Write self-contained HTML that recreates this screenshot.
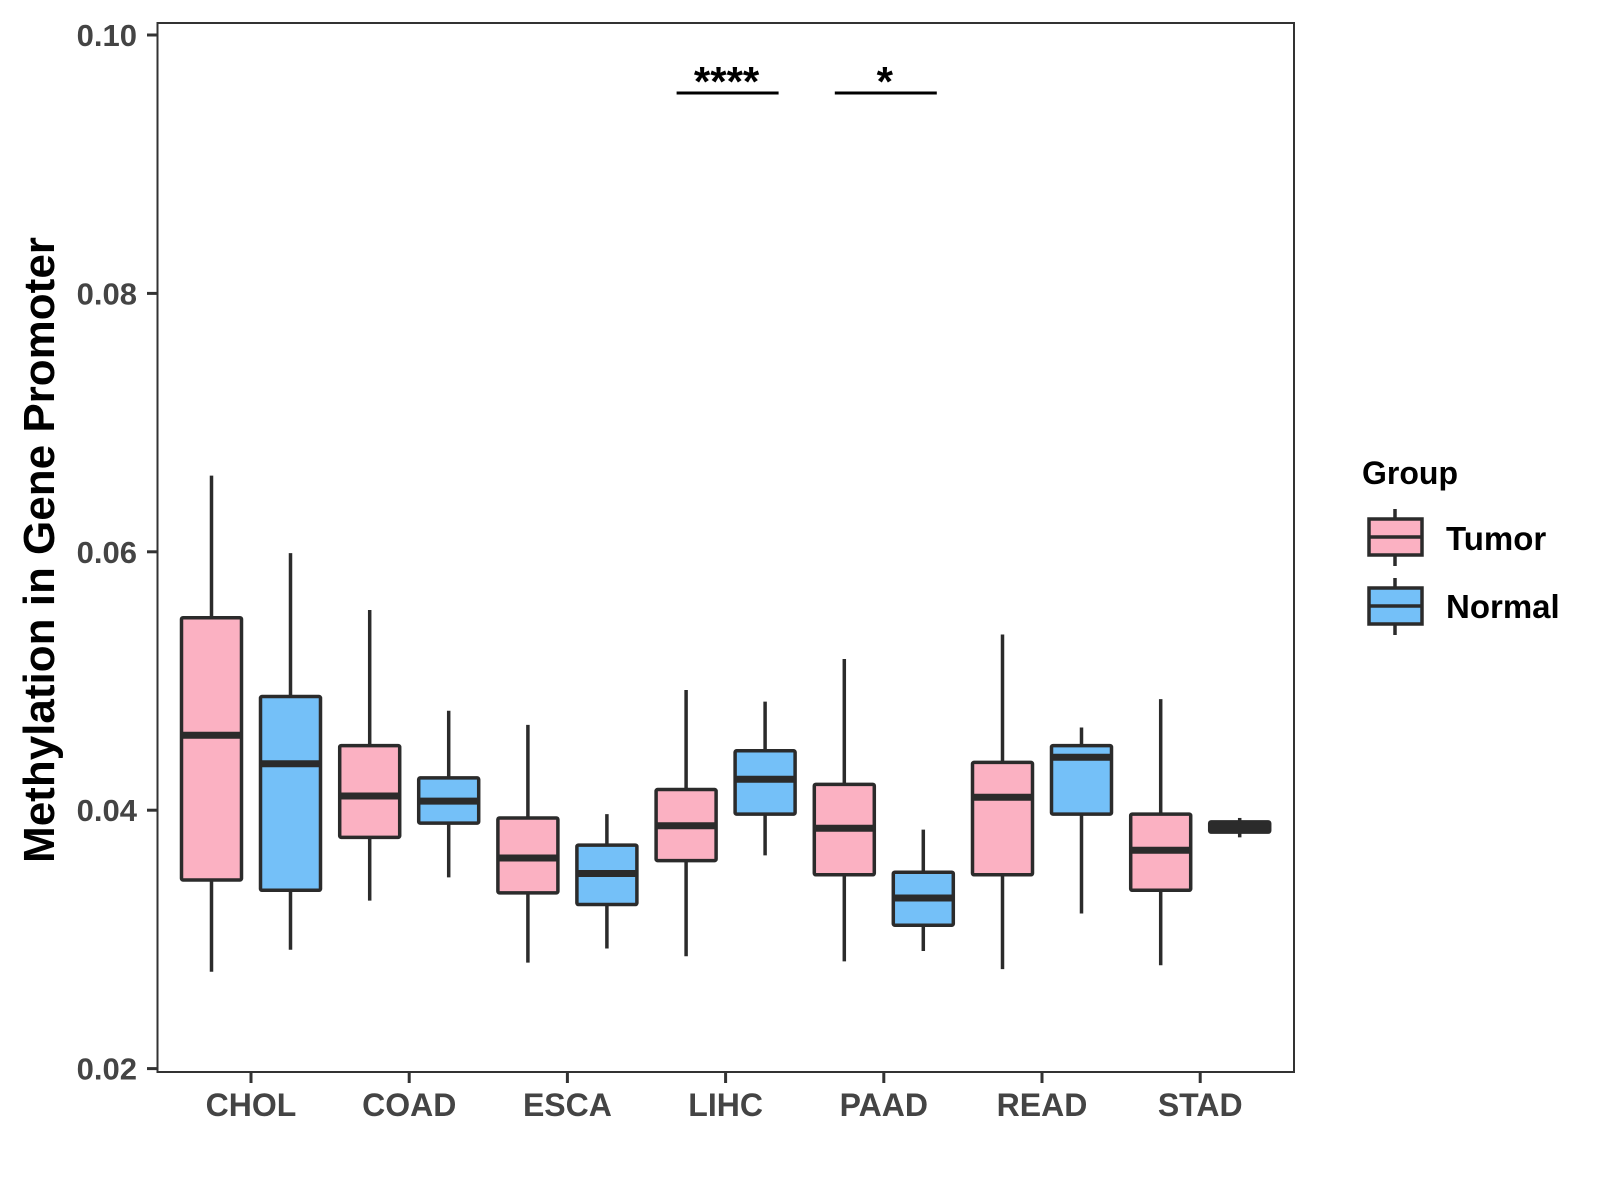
<!DOCTYPE html>
<html><head><meta charset="utf-8"><style>
body{margin:0;background:#fff}
svg{display:block;font-family:"Liberation Sans",sans-serif;font-weight:bold}
</style></head><body>
<svg id="chart" width="1600" height="1200" viewBox="0 0 1600 1200">
<rect width="1600" height="1200" fill="#fff"/>
<g id="marks"></g>
<rect x="157.5" y="23" width="1136.5" height="1049" fill="none" stroke="#333" stroke-width="2"/>
<g id="axes"></g>
<text x="0" y="0" transform="translate(54,550) rotate(-90)" text-anchor="middle" font-size="44" fill="#000">Methylation in Gene Promoter</text>
<g>
<text x="1362" y="484" font-size="32" fill="#000">Group</text>
<g>
<line x1="1395" y1="509" x2="1395" y2="566" stroke="#2b2b2b" stroke-width="3.5"/>
<rect x="1369" y="519" width="53" height="36" fill="#FBB1C2" stroke="#2b2b2b" stroke-width="3.5"/>
<line x1="1369" y1="537" x2="1422" y2="537" stroke="#2b2b2b" stroke-width="3.5"/>
<text x="1446" y="550" font-size="33" fill="#000">Tumor</text>
</g>
<g>
<line x1="1395" y1="578" x2="1395" y2="635" stroke="#2b2b2b" stroke-width="3.5"/>
<rect x="1369" y="588" width="53" height="36" fill="#74C0F8" stroke="#2b2b2b" stroke-width="3.5"/>
<line x1="1369" y1="606" x2="1422" y2="606" stroke="#2b2b2b" stroke-width="3.5"/>
<text x="1446" y="618" font-size="33" fill="#000">Normal</text>
</g>
</g>
</svg>
<script>
const categories=["CHOL","COAD","ESCA","LIHC","PAAD","READ","STAD"];
const tumorLow=[0.0275,0.0330,0.0282,0.0287,0.0283,0.0277,0.0280];
const tumorQ1=[0.0346,0.0379,0.0336,0.0361,0.0350,0.0350,0.0338];
const tumorMed=[0.0458,0.0411,0.0363,0.0388,0.0386,0.0410,0.0369];
const tumorQ3=[0.0549,0.0450,0.0394,0.0416,0.0420,0.0437,0.0397];
const tumorHigh=[0.0659,0.0555,0.0466,0.0493,0.0517,0.0536,0.0486];
const normalLow=[0.0292,0.0348,0.0293,0.0365,0.0291,0.0320,0.0379];
const normalQ1=[0.0338,0.0390,0.0327,0.0397,0.0311,0.0397,0.0383];
const normalMed=[0.0436,0.0407,0.0351,0.0424,0.0332,0.0441,0.0387];
const normalQ3=[0.0488,0.0425,0.0373,0.0446,0.0352,0.0450,0.0391];
const normalHigh=[0.0599,0.0477,0.0397,0.0484,0.0385,0.0464,0.0394];
const yTicks=[0.02,0.04,0.06,0.08,0.10];
const yTickLabels=["0.02","0.04","0.06","0.08","0.10"];
const sigCategories=["LIHC","PAAD"];
const sigLabels=["****","*"];

const NS="http://www.w3.org/2000/svg";
function y(v){return 35+(0.10-v)/0.02*258.4;}
function x(i){return 251+158.2*i;}
function mk(tag,attrs,parent){const e=document.createElementNS(NS,tag);for(const k in attrs)e.setAttribute(k,attrs[k]);parent.appendChild(e);return e;}
const marks=document.getElementById('marks'),axes=document.getElementById('axes');
const groups=[{n:"tumor",off:-39.5,fill:"#FBB1C2",lo:tumorLow,q1:tumorQ1,md:tumorMed,q3:tumorQ3,hi:tumorHigh},
{n:"normal",off:39.5,fill:"#74C0F8",lo:normalLow,q1:normalQ1,md:normalMed,q3:normalQ3,hi:normalHigh}];
categories.forEach((c,i)=>{
 groups.forEach(g=>{
  const cx=x(i)+g.off,w=60;
  const b=mk('g',{},marks);
  
  
  mk('line',{x1:cx,x2:cx,y1:y(g.hi[i]),y2:y(g.lo[i]),stroke:'#2b2b2b','stroke-width':3.5},b);
  mk('rect',{x:cx-w/2,y:y(g.q3[i]),width:w,height:Math.max(0,y(g.q1[i])-y(g.q3[i])),fill:g.fill,stroke:'#2b2b2b','stroke-width':3.5,rx:1.5},b);
  mk('line',{x1:cx-w/2,x2:cx+w/2,y1:y(g.md[i]),y2:y(g.md[i]),stroke:'#2b2b2b','stroke-width':7},b);
 });
 const t=mk('line',{x1:x(i),x2:x(i),y1:1073,y2:1083,stroke:'#333','stroke-width':3},axes);
 
 
 const l=mk('text',{x:x(i),y:1116,'text-anchor':'middle','font-size':32,fill:'#444'},axes);
 l.textContent=c;
 
 
});
yTicks.forEach((v,i)=>{
 const t=mk('line',{x1:147,x2:157,y1:y(v),y2:y(v),stroke:'#333','stroke-width':3},axes);
 
 
 const l=mk('text',{x:137,y:y(v)+11,'text-anchor':'end','font-size':31,fill:'#444'},axes);
 l.textContent=yTickLabels[i];
 
 
});
sigCategories.forEach((c,k)=>{
 const i=categories.indexOf(c);
 const ln=mk('line',{x1:x(i)-49,x2:x(i)+53,y1:93,y2:93,stroke:'#000','stroke-width':3},marks);
 
 
 const tx=mk('text',{x:x(i)+1,y:96,'text-anchor':'middle','font-size':42,fill:'#000'},marks);
 tx.textContent=sigLabels[k];
 
 
});
</script>
</body></html>
